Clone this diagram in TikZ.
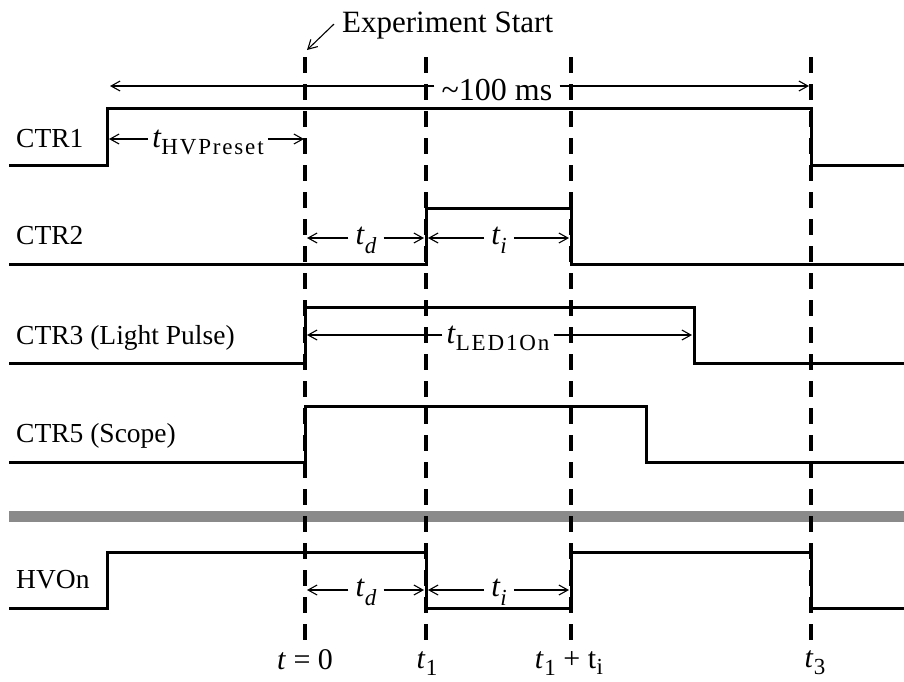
\documentclass[tikz,border=0pt]{standalone}
\usepackage{fontspec}
\setmainfont{Liberation Serif}
\usetikzlibrary{positioning,arrows.meta}
\newcommand{\mainsz}{\fontsize{27.5}{30}\selectfont}
\newcommand{\bigsz}{\fontsize{31}{34}\selectfont}
\newcommand{\subsz}{\fontsize{23}{26}\selectfont\addfontfeatures{LetterSpace=8}}
\newcommand{\tvar}{{\bigsz\itshape t}}
\newcommand{\tsub}[3][8pt]{#2\kern0.5pt\raisebox{-#1}{\subsz #3}}
\tikzset{
sig/.style={line width=3pt,line join=miter},
tline/.style={line width=3.5pt,dash pattern=on 16pt off 11pt},
sep/.style={line width=11pt,draw=black!46},
dim/.style={line width=1.1pt,-{Straight Barb[length=9pt,width=10pt]}},
lbl/.style={font=\mainsz,inner sep=0pt,anchor=base west},
dlbl/.style={font=\bigsz,inner xsep=7pt,inner ysep=0pt,anchor=base},
tlbl/.style={font=\fontsize{30}{33}\selectfont,inner sep=0pt,anchor=base}
}
\begin{document}
\begin{tikzpicture}[x=1pt,y=-1pt]
\useasboundingbox (0,0) rectangle (904,681);

\draw[sep] (9,516) -- (904,516);

\foreach \tx in {305,426,571,811}
  \draw[tline] (\tx,57) -- (\tx,647);

% signals
\draw[sig] (9,165) -- (107,165) -- (107,108) -- (811,108) -- (811,165) -- (904,165);
\draw[sig] (9,264) -- (426,264) -- (426,208) -- (571,208) -- (571,264) -- (904,264);
\draw[sig] (9,363) -- (305,363) -- (305,307) -- (694,307) -- (694,363) -- (904,363);
\draw[sig] (9,462) -- (305,462) -- (305,406) -- (646,406) -- (646,462) -- (904,462);
\draw[sig] (9,608) -- (107,608) -- (107,552) -- (426,552) -- (426,608) -- (571,608)
  -- (571,552) -- (811,552) -- (811,608) -- (904,608);

\node[lbl] (ctr1) at (16,147) {CTR1};
\node[lbl] (ctr2) at (16,244) {CTR2};
\node[lbl] (ctr3) at (16,344) {CTR3 (Light Pulse)};
\node[lbl] (ctr5) at (16,442) {CTR5 (Scope)};
\node[lbl] (hvon) at (16,588) {HVOn};

\node[lbl] (start) at (342,32) {\fontsize{31}{34}\selectfont Experiment Start};
\coordinate (startpt) at (307,50);
\draw[dim] ([xshift=-8pt,yshift=1pt]start.west) -- (startpt);

% spans
\coordinate (msL) at (110,86);
\coordinate (msR) at (809,86);
\node[dlbl] (ms) at (497,100) {\fontsize{32}{34}\selectfont\textasciitilde100 ms};
\draw[dim] (ms.west |- msL) -- (msL);
\draw[dim] (ms.east |- msR) -- (msR);

\coordinate (hvL) at (109,139);
\coordinate (hvR) at (304,139);
\node[dlbl,inner xsep=4pt] (hvp) at (208,147) {\tsub[7pt]{\tvar}{HVPreset}};
\draw[dim] (hvp.west |- hvL) -- (hvL);
\draw[dim] (hvp.east |- hvR) -- (hvR);

\coordinate (tdaL) at (307,238);
\coordinate (tdaR) at (424,238);
\node[dlbl] (tda) at (366,244) {\tsub[9pt]{\tvar}{\itshape d}};
\draw[dim] (tda.west |- tdaL) -- (tdaL);
\draw[dim] (tda.east |- tdaR) -- (tdaR);

\coordinate (tiaL) at (428,238);
\coordinate (tiaR) at (569,238);
\node[dlbl] (tia) at (499,244) {\tsub[9pt]{\tvar}{\itshape i}};
\draw[dim] (tia.west |- tiaL) -- (tiaL);
\draw[dim] (tia.east |- tiaR) -- (tiaR);

\coordinate (ledL) at (307,335);
\coordinate (ledR) at (692,335);
\node[dlbl,inner xsep=4pt] (led) at (498,343) {\tsub[7pt]{\tvar}{LED1On}};
\draw[dim] (led.west |- ledL) -- (ledL);
\draw[dim] (led.east |- ledR) -- (ledR);

\coordinate (tdbL) at (307,590);
\coordinate (tdbR) at (424,590);
\node[dlbl] (tdb) at (366,596) {\tsub[9pt]{\tvar}{\itshape d}};
\draw[dim] (tdb.west |- tdbL) -- (tdbL);
\draw[dim] (tdb.east |- tdbR) -- (tdbR);

\coordinate (tibL) at (428,590);
\coordinate (tibR) at (569,590);
\node[dlbl] (tib) at (499,596) {\tsub[9pt]{\tvar}{\itshape i}};
\draw[dim] (tib.west |- tibL) -- (tibL);
\draw[dim] (tib.east |- tibR) -- (tibR);

% times
\node[tlbl] (tzero) at (305,669) {\textit{t} = 0};
\node[tlbl] (tone) at (427,668) {\tsub[7pt]{\textit{t}}{1}};
\node[tlbl] (ttwo) at (569,668) {\tsub[7pt]{\textit{t}}{1} + \tsub[6pt]{t}{i}};
\node[tlbl] (tthree) at (815,667) {\tsub[7pt]{\textit{t}}{3}};
\end{tikzpicture}
\end{document}
